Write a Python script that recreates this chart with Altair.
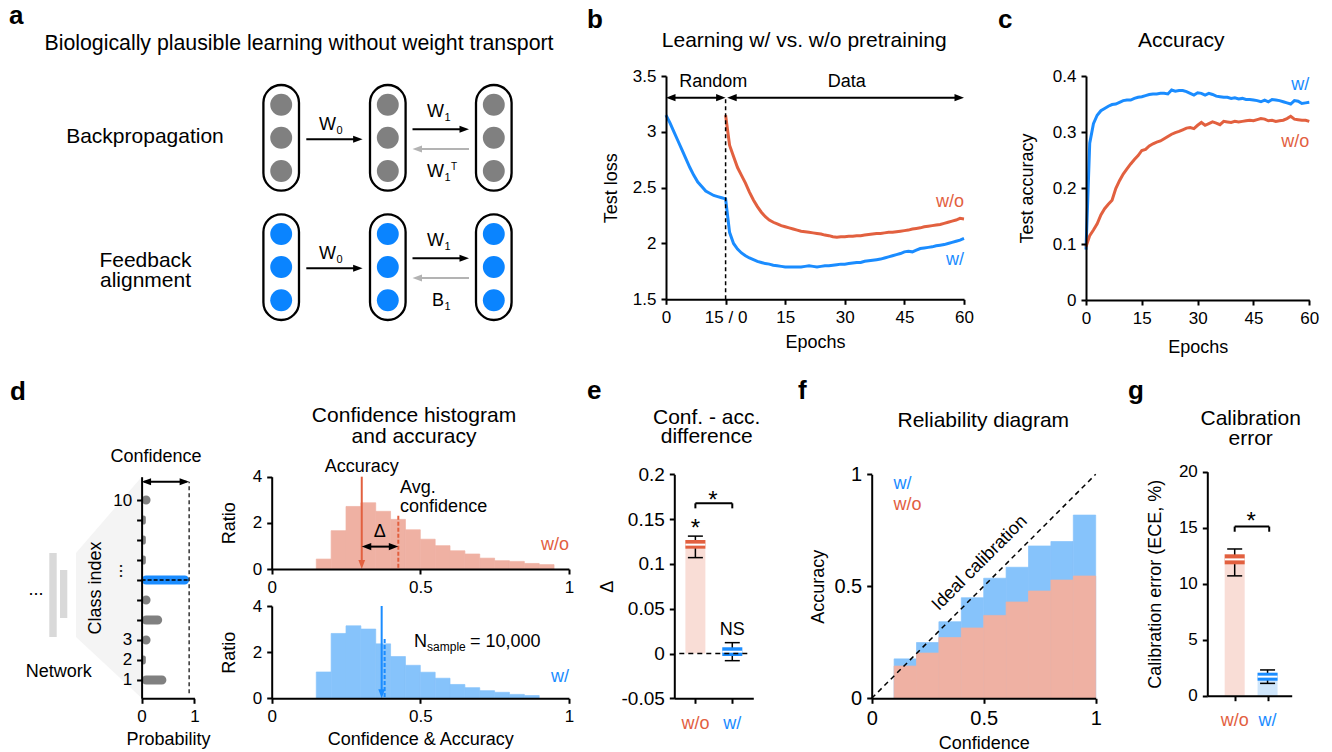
import altair as alt
import pandas as pd

FONT = "Liberation Sans"
BLUE = "#1a8cff"
BLUE_DOT = "#0a84ff"
RED = "#e2603f"
BLUE_L = "#86c3fb"
RED_L = "#efb1a3"
RED_BAR = "#f9ddd6"
BLUE_BAR = "#cfe6fb"
GRAY = "#808080"
LGRAY = "#d9d9d9"
FAN = "#f4f4f4"
ARROW_GRAY = "#b3b3b3"

# ======================= DATA =======================
b_pre_epochs = list(range(16))
b_pre_loss_w = [3.15, 3.08, 3.00, 2.92, 2.84, 2.76, 2.68, 2.61, 2.55, 2.51,
                2.47, 2.45, 2.43, 2.42, 2.41, 2.40]
b_epochs = list(range(61))
b_loss_w = [2.40, 2.10, 2.00, 1.95, 1.915, 1.89, 1.87, 1.855, 1.84, 1.83,
            1.82, 1.815, 1.805, 1.80, 1.795, 1.79, 1.79, 1.79, 1.79, 1.79,
            1.795, 1.80, 1.795, 1.79, 1.795, 1.80, 1.80, 1.805, 1.81, 1.815,
            1.815, 1.82, 1.825, 1.83, 1.83, 1.84, 1.845, 1.85, 1.855, 1.86,
            1.87, 1.88, 1.89, 1.90, 1.91, 1.925, 1.93, 1.925, 1.94, 1.955,
            1.96, 1.965, 1.97, 1.98, 1.985, 1.99, 2.00, 2.01, 2.02, 2.03, 2.045]
b_loss_wo = [3.15, 2.88, 2.78, 2.68, 2.61, 2.54, 2.46, 2.39, 2.33, 2.28,
             2.24, 2.21, 2.19, 2.175, 2.16, 2.15, 2.14, 2.13, 2.12, 2.11,
             2.105, 2.10, 2.095, 2.09, 2.085, 2.075, 2.07, 2.06, 2.055, 2.06,
             2.06, 2.065, 2.065, 2.07, 2.07, 2.075, 2.08, 2.085, 2.09, 2.09,
             2.095, 2.10, 2.10, 2.105, 2.11, 2.115, 2.12, 2.13, 2.135, 2.14,
             2.15, 2.155, 2.16, 2.165, 2.17, 2.18, 2.19, 2.20, 2.21, 2.225, 2.22]

c_epochs = list(range(61))
c_acc_w = [0.09, 0.28, 0.315, 0.33, 0.338, 0.342, 0.346, 0.349, 0.35, 0.353,
           0.356, 0.357, 0.357, 0.36, 0.362, 0.363, 0.365, 0.367, 0.368, 0.368,
           0.369, 0.369, 0.368, 0.375, 0.373, 0.374, 0.374, 0.372, 0.369, 0.366,
           0.37, 0.369, 0.366, 0.369, 0.367, 0.364, 0.363, 0.362, 0.362, 0.36,
           0.361, 0.359, 0.36, 0.358, 0.358, 0.357, 0.356, 0.354, 0.357, 0.354,
           0.358, 0.357, 0.356, 0.354, 0.352, 0.35, 0.356, 0.355, 0.351, 0.352, 0.353]
c_acc_wo = [0.095, 0.115, 0.125, 0.136, 0.152, 0.163, 0.171, 0.178, 0.199, 0.213,
            0.225, 0.234, 0.243, 0.251, 0.258, 0.267, 0.269, 0.275, 0.279, 0.282,
            0.284, 0.288, 0.292, 0.296, 0.299, 0.301, 0.304, 0.307, 0.308, 0.306,
            0.312, 0.317, 0.312, 0.315, 0.318, 0.316, 0.313, 0.319, 0.318, 0.317,
            0.319, 0.318, 0.319, 0.32, 0.321, 0.32, 0.322, 0.324, 0.323, 0.32,
            0.321, 0.319, 0.32, 0.321, 0.324, 0.328, 0.323, 0.322, 0.321, 0.321, 0.319]

d_class = [1, 2, 3, 4, 5, 6, 7, 8, 9, 10]
d_prob = [0.47, 0.08, 0.17, 0.39, 0.17, 0.90, 0.08, 0.08, 0.08, 0.17]
d_top_class = 6
hist_edges = [0.15, 0.20, 0.25, 0.30, 0.35, 0.40, 0.45, 0.50, 0.55, 0.60,
              0.65, 0.70, 0.75, 0.80, 0.85, 0.90, 0.95]
hist_wo = [0.43, 1.66, 2.71, 2.87, 2.50, 2.15, 1.70, 1.29, 1.01, 0.79,
           0.65, 0.47, 0.36, 0.33, 0.24, 0.19]
hist_w = [1.14, 2.81, 3.14, 3.00, 2.36, 1.81, 1.43, 1.13, 0.87, 0.60,
          0.46, 0.33, 0.26, 0.17, 0.12]
acc_wo, conf_wo = 0.303, 0.426
acc_w, conf_w = 0.370, 0.380

groups = ["w/o", "w/"]
e_bar = [0.1267, 0.0069]
e_q1 = [0.117, -0.0028]
e_q3 = [0.1267, 0.0069]
e_med = [0.1215, 0.002]
e_lo = [0.107, -0.008]
e_hi = [0.131, 0.0121]
g_bar = [12.62, 2.05]
g_q1 = [11.73, 1.34]
g_q3 = [12.62, 2.05]
g_med = [12.17, 1.70]
g_lo = [10.7, 1.1]
g_hi = [13.1, 2.3]

rel_edges = [0.1, 0.2, 0.3, 0.4, 0.5, 0.6, 0.7, 0.8, 0.9, 1.0]
rel_w = [0.176, 0.249, 0.342, 0.449, 0.536, 0.585, 0.680, 0.700, 0.818]
rel_wo = [0.144, 0.202, 0.271, 0.314, 0.370, 0.430, 0.479, 0.528, 0.546]

# ======================= LAYOUT (pixel boxes of each plot area) =======================
W, H = 1332, 752
BOX = {  # x0, x1, y_bottom, y_top
    "b": (666.0, 964.0, 299.3, 76.0),
    "c": (1086.0, 1309.3, 300.0, 76.0),
    "dp": (141.6, 194.4, 698.3, 476.7),
    "dt": (271.7, 568.9, 569.0, 476.7),
    "db": (271.7, 568.9, 698.3, 606.0),
    "e": (674.3, 753.3, 698.3, 474.3),
    "f": (871.7, 1095.7, 698.3, 474.3),
    "g": (1207.3, 1291.7, 695.7, 471.7),
}

# ======================= HELPERS =======================
ONE = pd.DataFrame({"v": [0]})
SX = alt.Scale(domain=[0, W], range=[0, W], nice=False, zero=False)
SY = alt.Scale(domain=[0, H], range=[0, H], nice=False, zero=False)


def sx(key, lo, hi):
    b = BOX[key]
    return alt.Scale(domain=[lo, hi], range=[b[0], b[1]], nice=False, zero=False)


def sy(key, lo, hi):
    b = BOX[key]
    return alt.Scale(domain=[lo, hi], range=[b[2], b[3]], nice=False, zero=False)


def fx(field, xs):
    # overlay layers keep the default axis so that they merge with the panel's own axis
    if xs is SX:
        return alt.X(f"{field}:Q", scale=xs, axis=None)
    return alt.X(f"{field}:Q", scale=xs)


def fy(field, ys):
    if ys is SY:
        return alt.Y(f"{field}:Q", scale=ys, axis=None)
    return alt.Y(f"{field}:Q", scale=ys)


def XY(xs, ys):
    return dict(x=fx("x", xs), y=fy("y", ys))


def seg(xs, ys, x1, y1, x2, y2, color="black", width=2.0, dash=None):
    df = pd.DataFrame({"x": [x1], "y": [y1], "x2": [x2], "y2": [y2]})
    mk = dict(color=color, strokeWidth=width)
    if dash:
        mk["strokeDash"] = dash
    return alt.Chart(df).mark_rule(**mk).encode(x2="x2:Q", y2="y2:Q", **XY(xs, ys))


SHAPES = {"r": "M-1,-0.75L1,0L-1,0.75Z", "l": "M1,-0.75L-1,0L1,0.75Z",
          "d": "M-0.75,-1L0.75,-1L0,1Z"}


def head(xs, ys, x, y, d, color="black", size=90):
    h = size ** 0.5 / 2
    off = {"r": dict(xOffset=-h), "l": dict(xOffset=h), "d": dict(yOffset=-h)}[d]
    return alt.Chart(pd.DataFrame({"x": [x], "y": [y]})).mark_point(
        shape=SHAPES[d], filled=True, color=color, opacity=1, size=size, strokeWidth=0, **off
    ).encode(**XY(xs, ys))


def tx(xs, ys, x, y, text, size=18, color="black", align="center", baseline="alphabetic",
       weight="normal", angle=0, dx=0, dy=0):
    return alt.Chart(pd.DataFrame({"x": [x], "y": [y]})).mark_text(
        text=text, font=FONT, fontSize=size, color=color, align=align, baseline=baseline,
        fontWeight=weight, angle=angle, dx=dx, dy=dy
    ).encode(**XY(xs, ys))


def ptx(px, py, text, size=21, color="black", align="center", weight="normal"):
    return alt.Chart(ONE).mark_text(
        text=text, font=FONT, fontSize=size, color=color, align=align,
        baseline="alphabetic", fontWeight=weight
    ).encode(x=alt.value(px), y=alt.value(py))


def letter(px, py, ch):
    return ptx(px, py, ch, size=26, align="left", weight="bold")


def rects(df, xs, ys, color, **mk):
    return alt.Chart(df).mark_rect(color=color, **mk).encode(x2="x2:Q", y2="y2:Q", **XY(xs, ys))


def xax(key, title, values, size=17, tpad=6, lexpr=None):
    d = dict(title=title, values=values, labelFontSize=size, titlePadding=tpad,
             orient="bottom", offset=-(H - BOX[key][2]), zindex=2)
    if lexpr:
        d["labelExpr"] = lexpr
    else:
        d["format"] = "~g"
    return alt.Axis(**d)


def yax(key, title, values, size=17, tpad=6, lexpr=None):
    d = dict(title=title, values=values, labelFontSize=size, titlePadding=tpad,
             orient="left", offset=-BOX[key][0], zindex=2)
    if lexpr:
        d["labelExpr"] = lexpr
    else:
        d["format"] = "~g"
    return alt.Axis(**d)


# ======================= SCHEMATICS (panel a and network of d) =======================
pill_x = [263.4, 370.0, 476.0]
pill_w = 35.6
row_top = [85.0, 214.3]
row_h = 105.7
circ_off = [19.7, 52.7, 86.0]

pills = pd.DataFrame([{"x": px, "x2": px + pill_w, "y": rt, "y2": rt + row_h}
                      for rt in row_top for px in pill_x])
s_layers = [
    # light fan of panel d, drawn first so that everything else lies above it
    alt.Chart(pd.DataFrame({"x": [76.0, 141.6], "y": [553.0, 477.0], "y2": [637.0, 698.0]}))
    .mark_area(color=FAN).encode(y2="y2:Q", **XY(SX, SY)),
    rects(pills, SX, SY, "white", cornerRadius=17.8, stroke="black", strokeWidth=2.3),
]
for ri, ccol in enumerate([GRAY, BLUE_DOT]):
    cdf = pd.DataFrame([{"x": px + pill_w / 2, "y": row_top[ri] + o} for px in pill_x for o in circ_off])
    s_layers.append(alt.Chart(cdf).mark_point(shape="circle", filled=True, size=480, opacity=1,
                                              color=ccol, strokeWidth=0).encode(**XY(SX, SY)))
for ri, dy in enumerate([0.0, 129.0]):
    yw0, yw1, yb = 139.3 + dy, 129.3 + dy, 149.0 + dy
    s_layers += [
        seg(SX, SY, 306.3, yw0, 355, yw0), head(SX, SY, 362.6, yw0, "r"),
        seg(SX, SY, 412.5, yw1, 462, yw1), head(SX, SY, 469.0, yw1, "r"),
        seg(SX, SY, 420, yb, 469.0, yb, color=ARROW_GRAY), head(SX, SY, 412.5, yb, "l", color=ARROW_GRAY),
        tx(SX, SY, 336, 130 + dy, "W", align="right"),
        tx(SX, SY, 336.5, 134 + dy, "0", size=11, align="left"),
        tx(SX, SY, 444, 117 + dy, "W", align="right"),
        tx(SX, SY, 444.5, 121 + dy, "1", size=11, align="left"),
    ]
s_layers += [
    tx(SX, SY, 444, 177, "W", align="right"),
    tx(SX, SY, 444.5, 181, "1", size=11, align="left"),
    tx(SX, SY, 451, 170, "T", size=10, align="left"),
    tx(SX, SY, 444, 306, "B", align="right"),
    tx(SX, SY, 444.5, 310, "1", size=11, align="left"),
    tx(SX, SY, 299, 50, "Biologically plausible learning without weight transport", size=21.3),
    tx(SX, SY, 145, 143, "Backpropagation", size=21),
    tx(SX, SY, 145.5, 266.5, "Feedback", size=21),
    tx(SX, SY, 145.5, 286.5, "alignment", size=21),
    tx(SX, SY, 9, 24, "a", size=26, align="left", weight="bold"),
    rects(pd.DataFrame({"x": [49.3, 60.0], "x2": [56.7, 67.3], "y": [553.0, 570.0], "y2": [637.0, 618.0]}),
          SX, SY, LGRAY),
    tx(SX, SY, 36, 595, "..."),
    tx(SX, SY, 58.8, 676.7, "Network"),
    tx(SX, SY, 10, 400, "d", size=26, align="left", weight="bold"),
]
SCHEM = alt.layer(*s_layers)

# ======================= PANEL B =======================
BX, BY = sx("b", 0, 75), sy("b", 1.5, 3.5)
rows = []
for e, v in zip(b_pre_epochs, b_pre_loss_w):
    rows.append({"x": e, "y": v, "s": "w/", "i": len(rows)})
for k, v in zip(b_epochs, b_loss_w):
    rows.append({"x": 15 + k, "y": v, "s": "w/", "i": len(rows)})
for k, v in zip(b_epochs, b_loss_wo):
    rows.append({"x": 15 + k, "y": v, "s": "w/o", "i": len(rows)})
bdf = pd.DataFrame(rows)
SER = alt.Scale(domain=["w/", "w/o"], range=[BLUE, RED])
b_line = alt.Chart(bdf).mark_line(strokeWidth=3).encode(
    x=alt.X("x:Q", scale=BX, axis=xax("b", "Epochs", [0, 15, 30, 45, 60, 75], tpad=8,
            lexpr="datum.value == 15 ? '15 / 0' : datum.value < 15 ? '0' : '' + (datum.value - 15)")),
    y=alt.Y("y:Q", scale=BY, axis=yax("b", "Test loss", [1.5, 2, 2.5, 3, 3.5], tpad=12)),
    color=alt.Color("s:N", scale=SER, legend=None),
    detail="s:N", order="i:Q")
ya = 3.306
B = alt.layer(
    b_line,
    seg(BX, BY, 15, 1.5, 15, ya, width=1.5, dash=[4, 3]),
    seg(BX, BY, 1, ya, 14, ya), head(BX, BY, 0, ya, "l"), head(BX, BY, 15, ya, "r"),
    seg(BX, BY, 16.5, ya, 74, ya), head(BX, BY, 15.4, ya, "l"), head(BX, BY, 75, ya, "r"),
    tx(BX, BY, 11.9, 3.40, "Random"),
    tx(BX, BY, 45.5, 3.40, "Data"),
    tx(BX, BY, 75, 2.328, "w/o", color=RED, align="right"),
    tx(BX, BY, 75, 1.805, "w/", color=BLUE, align="right"),
    ptx(804.2, 47, "Learning w/ vs. w/o pretraining"),
    letter(587, 28, "b"),
)

# ======================= PANEL C =======================
CX, CY = sx("c", 0, 60), sy("c", 0, 0.4)
cdf = pd.DataFrame([{"x": e, "y": v, "s": "w/"} for e, v in zip(c_epochs, c_acc_w)] +
                   [{"x": e, "y": v, "s": "w/o"} for e, v in zip(c_epochs, c_acc_wo)])
c_line = alt.Chart(cdf).mark_line(strokeWidth=3).encode(
    x=alt.X("x:Q", scale=CX, axis=xax("c", "Epochs", [0, 15, 30, 45, 60], tpad=12)),
    y=alt.Y("y:Q", scale=CY, axis=yax("c", "Test accuracy", [0, 0.1, 0.2, 0.3, 0.4], tpad=16)),
    color=alt.Color("s:N", scale=SER, legend=None), detail="s:N", order="x:Q")
C = alt.layer(
    c_line,
    tx(CX, CY, 60, 0.375, "w/", color=BLUE, align="right"),
    tx(CX, CY, 60, 0.274, "w/o", color=RED, align="right"),
    ptx(1181.2, 47, "Accuracy"),
    letter(998, 28, "c"),
)

# ======================= PANEL D (probabilities) =======================
PX, PY = sx("dp", 0, 1), sy("dp", 0.33, 10.92)
pdf = pd.DataFrame({"x": d_prob, "y": d_class, "z": [0] * len(d_class)})
p_axes = alt.Chart(pdf[pdf.y != d_top_class]).mark_bar(
    color=GRAY, size=9, cornerRadiusEnd=4.5, orient="horizontal").encode(
    x=alt.X("x:Q", scale=PX, axis=xax("dp", "Probability", [0, 1], tpad=6)),
    x2="z:Q",
    y=alt.Y("y:Q", scale=PY, axis=yax("dp", "Class index", d_class, tpad=8,
            lexpr="(datum.value == 10 || datum.value <= 3) ? '' + datum.value : ''")))
p_top = alt.Chart(pdf[pdf.y == d_top_class]).mark_bar(
    color=BLUE, size=9, cornerRadiusEnd=4.5, orient="horizontal").encode(
    x=fx("x", PX), x2="z:Q", y=fy("y", PY))
D_prob = alt.layer(
    p_axes, p_top,
    seg(PX, PY, 0, d_top_class, 0.9, d_top_class, width=1.5, dash=[4, 2]),
    seg(PX, PY, 0.9, 0.33, 0.9, 10.92, width=1.2, dash=[4, 3]),
    seg(PX, PY, 0.05, 10.92, 0.85, 10.92), head(PX, PY, 0, 10.92, "l"), head(PX, PY, 0.9, 10.92, "r"),
    tx(PX, PY, -0.31, 6.45, "...", angle=90, baseline="middle"),
    ptx(156, 461.7, "Confidence", size=18),
)

# ======================= PANEL D (histograms) =======================
HX, HY = sx("dt", 0, 1), sy("dt", 0, 4)
HX2, HY2 = sx("db", 0, 1), sy("db", 0, 4)
hwo = pd.DataFrame({"x": hist_edges[:-1], "x2": hist_edges[1:], "y": [0] * len(hist_wo), "y2": hist_wo})
hw = pd.DataFrame({"x": hist_edges[:len(hist_w)], "x2": hist_edges[1:len(hist_w) + 1],
                   "y": [0] * len(hist_w), "y2": hist_w})


def hist_base(df, color, key, xs, ys, xtitle):
    return alt.Chart(df).mark_rect(color=color, stroke=color, strokeWidth=0.7).encode(
        x=alt.X("x:Q", scale=xs, axis=xax(key, xtitle, [0, 0.5, 1], tpad=6)), x2="x2:Q",
        y=alt.Y("y:Q", scale=ys, axis=yax(key, "Ratio", [0, 2, 4], tpad=14)), y2="y2:Q")


D_top = alt.layer(
    hist_base(hwo, RED_L, "dt", HX, HY, ""),
    seg(HX, HY, acc_wo, 4, acc_wo, 0.3, color=RED, width=2), head(HX, HY, acc_wo, 0, "d", color=RED, size=80),
    seg(HX, HY, conf_wo, 2.31, conf_wo, 0, color=RED, width=2, dash=[4, 2]),
    seg(HX, HY, acc_wo + 0.02, 0.97, conf_wo - 0.02, 0.97),
    head(HX, HY, acc_wo, 0.97, "l"), head(HX, HY, conf_wo, 0.97, "r"),
    tx(HX, HY, 0.364, 1.4, "Δ"),
    tx(HX, HY, acc_wo, 4.22, "Accuracy"),
    tx(HX, HY, 0.432, 3.28, "Avg.", align="left"),
    tx(HX, HY, 0.432, 2.48, "confidence", align="left"),
    tx(HX, HY, 1.0, 0.82, "w/o", color=RED, align="right"),
    ptx(414, 422.3, "Confidence histogram"),
    ptx(414, 442.7, "and accuracy"),
)

D_bot = alt.layer(
    hist_base(hw, BLUE_L, "db", HX2, HY2, "Confidence & Accuracy"),
    seg(HX2, HY2, acc_w, 4, acc_w, 0.3, color=BLUE, width=2), head(HX2, HY2, acc_w, 0, "d", color=BLUE, size=80),
    seg(HX2, HY2, conf_w, 2.57, conf_w, 0, color=BLUE, width=2, dash=[4, 2]),
    tx(HX2, HY2, 0.479, 2.21, "N", align="left"),
    tx(HX2, HY2, 0.479, 2.21, "sample", size=12, align="left", dx=13, dy=4),
    tx(HX2, HY2, 0.479, 2.21, "= 10,000", align="left", dx=56),
    tx(HX2, HY2, 1.0, 0.72, "w/", color=BLUE, align="right"),
)

# ======================= PANELS E & G (bar + box) =======================
GROUP_COLORS = {"w/o": (RED, RED_BAR), "w/": (BLUE, BLUE_BAR)}


def boxpanel(key, xs, ys, bar, q1, q3, med, lo, hi, yaxis, ylab):
    layers = []
    for i, g in enumerate(groups):
        dark, light = GROUP_COLORS[g]
        base = pd.DataFrame({"x": [i], "y": [bar[i]], "z": [0], "q1": [q1[i]], "q3": [q3[i]],
                             "m": [med[i]], "lo": [lo[i]], "hi": [hi[i]]})
        if i == 0:
            xenc = alt.X("x:Q", scale=xs, axis=xax(key, "", [0, 1], size=18, lexpr="''"))
            yenc = alt.Y("y:Q", scale=ys, axis=yaxis)
        else:
            xenc = fx("x", xs)
            yenc = fy("y", ys)
        layers.append(alt.Chart(base).mark_bar(color=light, size=20, orient="vertical").encode(
            x=xenc, y=yenc, y2="z:Q"))
        xq = fx("x", xs)
        layers.append(alt.Chart(base).mark_rule(color="black", strokeWidth=1.5).encode(
            x=xq, y=fy("lo", ys), y2="hi:Q"))
        for f in ["lo", "hi"]:
            layers.append(alt.Chart(base).mark_tick(color="black", orient="horizontal", size=15,
                                                    thickness=1.5, opacity=1).encode(
                x=xq, y=fy(f, ys)))
        layers.append(alt.Chart(base).mark_bar(color=dark, size=20, orient="vertical").encode(
            x=xq, y=fy("q1", ys), y2="q3:Q"))
        layers.append(alt.Chart(base).mark_tick(color="white", orient="horizontal", size=20,
                                                thickness=2, opacity=1).encode(
            x=xq, y=fy("m", ys)))
        layers.append(tx(xs, ys, i, ylab, g, size=18, color=dark))
    return layers


EX, EY = sx("e", -0.436, 1.434), sy("e", -0.05, 0.2)
e_yaxis = yax("e", "Δ", [-0.05, 0, 0.05, 0.1, 0.15, 0.2], size=19, tpad=4,
              lexpr="datum.value < 0 ? '-' + format(-datum.value, '~g') : format(datum.value, '~g')")
E = alt.layer(
    *boxpanel("e", EX, EY, e_bar, e_q1, e_q3, e_med, e_lo, e_hi, e_yaxis, -0.0842),
    seg(EX, EY, -0.436, 0, 1.434, 0, width=1.5, dash=[5, 4]),
    seg(EX, EY, 0, 0.1676, 1, 0.1676, width=2),
    seg(EX, EY, 0, 0.1676, 0, 0.162, width=2),
    seg(EX, EY, 1, 0.1676, 1, 0.162, width=2),
    tx(EX, EY, 0.474, 0.1626, "*", size=24),
    tx(EX, EY, 0, 0.131, "*", size=24),
    tx(EX, EY, 1, 0.0207, "NS"),
    ptx(706.7, 424, "Conf. - acc."),
    ptx(706.7, 443.3, "difference"),
    letter(587, 399, "e"),
)

GX, GY = sx("g", -0.681, 1.582), sy("g", 0, 20)
g_yaxis = yax("g", "Calibration error (ECE, %)", [0, 5, 10, 15, 20], size=17, tpad=14)
G = alt.layer(
    *boxpanel("g", GX, GY, g_bar, g_q1, g_q3, g_med, g_lo, g_hi, g_yaxis, -2.7),
    seg(GX, GY, 0, 15.1, 1.05, 15.1, width=2),
    seg(GX, GY, 0, 15.1, 0, 14.64, width=2),
    seg(GX, GY, 1.05, 15.1, 1.05, 14.64, width=2),
    tx(GX, GY, 0.5, 14.84, "*", size=24),
    ptx(1250.7, 425, "Calibration"),
    ptx(1250.7, 445, "error"),
    letter(1128, 399, "g"),
)

# ======================= PANEL F =======================
FX, FY = sx("f", 0, 1), sy("f", 0, 1)
fw = pd.DataFrame({"x": rel_edges[:-1], "x2": rel_edges[1:], "y": [0] * len(rel_w), "y2": rel_w})
fwo = pd.DataFrame({"x": rel_edges[:-1], "x2": rel_edges[1:], "y": [0] * len(rel_wo), "y2": rel_wo})
f_base = alt.Chart(fw).mark_rect(color=BLUE_L, stroke=BLUE_L, strokeWidth=0.7).encode(
    x=alt.X("x:Q", scale=FX, axis=xax("f", "Confidence", [0, 0.5, 1], size=20, tpad=6)), x2="x2:Q",
    y=alt.Y("y:Q", scale=FY, axis=yax("f", "Accuracy", [0, 0.5, 1], size=20, tpad=6)), y2="y2:Q")
F = alt.layer(
    f_base,
    rects(fwo, FX, FY, RED_L, stroke=RED_L, strokeWidth=0.7),
    seg(FX, FY, 0, 0, 1, 1, width=1.5, dash=[5, 4]),
    tx(FX, FY, 0.483, 0.603, "Ideal calibration", angle=315, baseline="middle"),
    tx(FX, FY, 0.097, 0.933, "w/", color=BLUE, align="left"),
    tx(FX, FY, 0.097, 0.84, "w/o", color=RED, align="left"),
    ptx(983.3, 427.3, "Reliability diagram"),
    letter(798, 399, "f"),
)

# ======================= COMPOSE =======================
chart = alt.layer(SCHEM, B, C, D_prob, D_top, D_bot, E, F, G).resolve_scale(
    x="independent", y="independent"
).properties(
    width=W, height=H, padding=0, background="white"
).configure_view(stroke=None).configure_axis(
    domainColor="black", domainWidth=2, tickColor="black", tickWidth=2, tickSize=5,
    labelFont=FONT, labelColor="black", labelPadding=5, titleFont=FONT, titleFontSize=18,
    titleFontWeight="normal", titleColor="black", grid=False,
    labelFlush=False, labelOverlap=False)

chart.save("out.html", embed_options={"renderer": "svg", "actions": False})
